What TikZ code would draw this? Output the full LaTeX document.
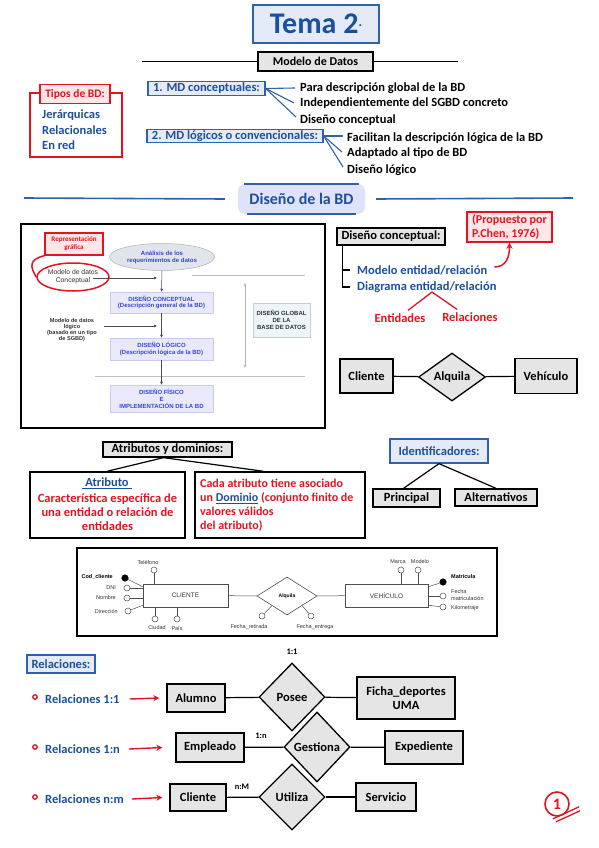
\documentclass[tikz,border=0pt]{standalone}
\usepackage{fontspec}
\setmainfont{Carlito}
\newfontfamily\arialf{Liberation Sans}
\usetikzlibrary{shapes.geometric,arrows.meta,calc}
\definecolor{tblue}{HTML}{1C4F9C}
\definecolor{bborder}{HTML}{2F62AB}
\definecolor{bfill}{HTML}{E4EBF6}
\definecolor{tred}{HTML}{E3141F}
\definecolor{pinkf}{HTML}{FDE6E8}
\definecolor{gfill}{HTML}{E5E5E5}
\definecolor{headf}{HTML}{DFE3FA}
\definecolor{lavf}{HTML}{E9E9FB}
\definecolor{lavd}{HTML}{C9C9EE}
\definecolor{lavt}{HTML}{3347D0}
\definecolor{imgtxt}{HTML}{333333}
\definecolor{anaf}{HTML}{E2E4EC}
\definecolor{dgf}{HTML}{EEF5F8}
\begin{document}
\begin{tikzpicture}[x=1pt,y=-1pt,
  every node/.style={inner sep=0pt, font=\bfseries\fontsize{12.5}{14}\selectfont},
  gbox/.style={draw=black, line width=1.3pt, fill=gfill, align=center},
  bbox/.style={draw=bborder, line width=1.3pt, fill=bfill, text=tblue},
  rbox/.style={draw=tred, line width=1.3pt, fill=pinkf, text=tred},
  wbox/.style={draw=black, line width=1.6pt, fill=white},
  rel/.style={diamond, draw=black, line width=1.3pt, fill=gfill},
  frontrel/.style={rel, preaction={draw=white, line width=5pt}},
  itm/.style={anchor=west},
  bitm/.style={anchor=west, text=tblue},
  ln/.style={draw=black, line width=1.2pt},
  fan/.style={draw=bborder, line width=1.1pt},
  redarr/.style={draw=tred, line width=1.4pt, -{Stealth[length=6pt,width=6pt]}},
  cardlbl/.style={font=\bfseries\fontsize{8.5}{9}\selectfont},
  imgt/.style={font=\arialf\fontsize{5.5}{6.2}\selectfont, text=imgtxt},
  imgtb/.style={font=\arialf\bfseries\fontsize{5.5}{6.2}\selectfont, text=black},
  imgbold/.style={font=\arialf\bfseries\fontsize{6}{6.9}\selectfont, align=center},
  lav/.style={imgbold, draw=lavd, fill=lavf, text=lavt, line width=0.5pt},
  garr/.style={draw=black!70, line width=0.5pt, -{Latex[length=3pt,width=3pt]}},
  sep/.style={draw=black!25, line width=0.5pt},
  attr/.style={circle, draw=black!70, fill=white, line width=0.5pt, minimum size=6pt},
  attrk/.style={circle, draw=black, fill=black, line width=0.5pt, minimum size=6.5pt},
  erl/.style={draw=black!70, line width=0.5pt},
  bul/.style={circle, draw=tred, line width=1.3pt, minimum size=4.5pt},
]
\useasboundingbox (0,0) rectangle (599,848);
\fill[white] (0,0) rectangle (599,848);

% ---------- Title ----------
\node[draw=bborder, line width=1.6pt, fill=bfill, minimum width=126pt, minimum height=38pt, text=tblue, font=\bfseries\fontsize{30}{32}\selectfont] (tema) at (316,24) {Tema 2\raisebox{4pt}{\fontsize{14}{14}\selectfont\mdseries ·}};

\node[gbox, minimum width=115pt, minimum height=19pt, font=\bfseries\fontsize{12}{13}\selectfont] (modelo) at (315.5,61.5) {Modelo de Datos};
\coordinate (tlL) at (142,61.5);
\coordinate (tlR) at (458,61.5);
\draw[ln] (tlL) -- (modelo);
\draw[ln] (modelo) -- (tlR);

% ---------- Tipos de BD ----------
\node[draw=tred, line width=1.6pt, fill=white, minimum width=92pt, minimum height=64pt] (tipos) at (76,125) {};
\node[rbox, minimum width=70pt, minimum height=19pt, font=\bfseries\fontsize{11.5}{13}\selectfont] (tiposT) at (75,94) {Tipos de BD:};
\node[bitm] (jer) at (42,115) {Jerárquicas};
\node[bitm] (relc) at (42,130) {Relacionales};
\node[bitm] (enred) at (42,145) {En red};

% ---------- MD conceptuales ----------
\node[bbox, minimum width=117pt, minimum height=14pt] (md1) at (206.5,88.5) {1. MD conceptuales:};
\node[itm] (p1) at (300,88) {Para descripción global de la BD};
\node[itm] (p2) at (300,103) {Independientemente del SGBD concreto};
\node[itm] (p3) at (300,120) {Diseño conceptual};
\draw[fan] (md1.east) -- ([xshift=-5]p1.west);
\draw[fan] (md1.east) -- ([xshift=-6]p2.west);
\draw[fan] (md1.east) -- ([shift={(-4,-3)}]p3.west);

% ---------- MD logicos ----------
\node[bbox, minimum width=176pt, minimum height=13pt] (md2) at (235,136) {2. MD lógicos o convencionales:};
\node[itm] (f1) at (347,138) {Facilitan la descripción lógica de la BD};
\node[itm] (f2) at (347,153) {Adaptado al tipo de BD};
\node[itm] (f3) at (347,170) {Diseño lógico};
\draw[fan] (md2.east) -- ([shift={(-4,-2)}]f1.west);
\draw[fan] (md2.east) -- ([shift={(-5,-1)}]f2.west);
\draw[fan] (md2.east) -- ([shift={(-4,-3)}]f3.west);

% ---------- Heading ----------
\node[fill=headf, rounded corners=7pt, minimum width=127pt, minimum height=30pt, text=tblue, font=\bfseries\fontsize{16}{18}\selectfont] (head) at (301.5,199) {Diseño de la BD};
\coordinate (hl1) at (24,198);
\coordinate (hr2) at (573,198);
\draw[draw=bborder, line width=1.6pt] (hl1) -- ([xshift=-13]head.west);
\draw[draw=bborder, line width=1.6pt] ([xshift=11]head.east) -- (hr2);
\draw[draw=bborder, line width=2.2pt] ([xshift=6]head.north west) -- ([xshift=-6]head.north east);
\draw[draw=bborder, line width=2.2pt] ([xshift=9]head.south west) -- ([xshift=-9]head.south east);

% ---------- Left figure ----------
\node[wbox, minimum width=304pt, minimum height=204pt] (fig) at (173,326) {};
\draw[sep] (192,275) -- (305,275);
\draw[sep] (95,376) -- (305,376);
\draw[draw=black!30, line width=0.6pt, {Latex[length=3pt,width=3pt]}-{Latex[length=3pt,width=3pt]}] (245,283) -- (245,368);

\node[ellipse, draw=black!30, line width=0.5pt, fill=anaf, minimum width=105pt, minimum height=27pt, imgbold, text=lavt] (ana) at (162,257) {Análisis de los\\requerimientos de datos};
\node[lav, minimum width=103pt, minimum height=21pt] (dc) at (161.5,302.5) {DISEÑO CONCEPTUAL\\(Descripción general de la BD)};
\node[lav, minimum width=103pt, minimum height=22pt] (dl) at (161.5,349) {DISEÑO LÓGICO\\(Descripción lógica de la BD)};
\node[lav, minimum width=103pt, minimum height=27pt] (df) at (161.5,398.5) {DISEÑO FÍSICO\\E\\IMPLEMENTACIÓN DE LA BD};
\node[imgbold, draw=black!20, fill=dgf, line width=0.5pt, text=black!80, minimum width=57pt, minimum height=34pt] (dg) at (281.5,320) {DISEÑO GLOBAL\\DE LA\\BASE DE DATOS};
\draw[garr] (ana) -- (dc);
\draw[garr] (dc) -- (dl);
\draw[garr] (dl) -- (df);

\node[rbox, minimum width=58pt, minimum height=22pt, font=\bfseries\fontsize{7}{8}\selectfont, align=center] (rep) at (74,244) {Representación\\gráfica};
\node[ellipse, draw=tred, line width=1.5pt, fill=white, minimum width=72pt, minimum height=28pt, font=\arialf\fontsize{6.8}{7.6}\selectfont, text=imgtxt, align=center] (mdc) at (73,277) {Modelo de datos\\Conceptual};
\draw[tred, line width=1.5pt] (rep.south west) .. controls +(-16,4) and +(-6,-10) .. (mdc.west);
\coordinate (a1e) at (157,278);
\draw[garr] ([shift={(-17,1)}]mdc.east) -- (a1e);

\node[font=\arialf\bfseries\fontsize{5.6}{5.9}\selectfont, text=imgtxt, align=center] (mdl) at (72,330) {Modelo de datos\\lógico\\(basado en un tipo\\de SGBD)};
\coordinate (a2e) at (157,326);
\draw[garr] ([shift={(7,-4)}]mdl.east) -- (a2e);

% ---------- Right: Diseno conceptual ----------
\node[rbox, line width=1.5pt, minimum width=85pt, minimum height=30pt, align=left, font=\bfseries\fontsize{12}{13.5}\selectfont] (chen) at (509.5,227) {(Propuesto por\\P.Chen, 1976)};
\node[gbox, minimum width=108pt, minimum height=17pt] (dconc) at (391,236.5) {Diseño conceptual:};
\node[bitm] (mer) at (357,270) {Modelo entidad/relación};
\node[bitm] (der) at (357,287) {Diagrama entidad/relación};
\coordinate (brT) at ($(dconc.south west)+(6,0)$);
\draw[ln] (brT) |- ([xshift=-7]der.west);
\draw[ln] (brT |- mer.west) -- ([xshift=-7]mer.west);
\draw[draw=tred, line width=1.5pt, -{Stealth[length=6pt,width=6pt]}] ([shift={(7,-3)}]mer.east) .. controls +(12,0) and +(0,14) .. (chen.south);
\coordinate (spl) at (432,292);
\node[text=tred] (ent) at (400,318) {Entidades};
\node[text=tred] (relz) at (470,317) {Relaciones};
\draw[draw=tred, line width=1.3pt] (spl) -- ([shift={(8,-3)}]ent.north);
\draw[draw=tred, line width=1.3pt] (spl) -- ([shift={(-13,-3)}]relz.north);

% ---------- Cliente Alquila Vehiculo ----------
\node[gbox, minimum width=53pt, minimum height=34pt] (cli) at (366.5,376) {Cliente};
\node[rel, minimum width=67pt, minimum height=48pt] (alq) at (452,377) {Alquila};
\node[gbox, minimum width=62pt, minimum height=35pt] (veh) at (546,376) {Vehículo};
\draw[ln] (cli) -- (alq);
\draw[ln] (alq) -- (veh);

% ---------- Atributos y dominios ----------
\node[gbox, minimum width=129pt, minimum height=15pt] (atr) at (167.5,449.5) {Atributos y dominios:};
\node[wbox, minimum width=155pt, minimum height=66pt] (atrL) at (107.5,505) {};
\node[wbox, minimum width=170pt, minimum height=66pt] (atrR) at (280,505) {};
\draw[ln] ([xshift=-4]atr.south) -- (atrL.north);
\draw[ln] ([xshift=-4]atr.south) -- ([xshift=-17]atrR.north);
\node[text=tblue] (atrT) at (107,483) {\underline{\ Atributo\ }};
\node[text=tred, align=center] (atrD) at (107.5,512) {Característica específica de\\una entidad o relación de\\entidades};
\node[text=tred, align=left, anchor=west, font=\bfseries\fontsize{12}{14}\selectfont] (atrRT) at (200,505) {Cada atributo tiene asociado\\un \textcolor{tblue}{\underline{Dominio}} (conjunto finito de\\valores válidos\\del atributo)};

% ---------- Identificadores ----------
\node[bbox, minimum width=98pt, minimum height=24pt] (idf) at (439,451) {Identificadores:};
\node[gbox, minimum width=67pt, minimum height=18pt] (pri) at (406.5,498) {Principal};
\node[gbox, minimum width=82pt, minimum height=17pt] (alt) at (496,497.5) {Alternativos};
\draw[ln] (idf.south) -- ([xshift=-3]pri.north);
\draw[ln] (idf.south) -- (alt.north);

% ---------- ER figure ----------
\node[wbox, minimum width=420pt, minimum height=88pt] (erfig) at (287,592) {};
\node[draw=black!70, line width=0.6pt, fill=white, minimum width=85pt, minimum height=23pt, font=\arialf\fontsize{6.5}{7}\selectfont, text=imgtxt] (CL) at (185.5,595.5) {CLIENTE};
\node[diamond, draw=black!70, line width=0.6pt, fill=white, minimum width=60pt, minimum height=38pt, font=\arialf\bfseries\fontsize{5}{6}\selectfont] (AL) at (287,596) {Alquila};
\node[draw=black!70, line width=0.6pt, fill=white, minimum width=83pt, minimum height=23pt, font=\arialf\fontsize{6.5}{7}\selectfont, text=imgtxt] (VE) at (386.5,595.5) {VEHÍCULO};
\draw[erl] (CL) -- (AL);
\draw[erl] (AL) -- (VE);

\node[attr] (tel) at (154,570) {};
\draw[erl] (tel) -- (tel |- CL.north);
\node[imgt] (telL) at (148,562) {Teléfono};
\node[attrk] (cod) at (125,578) {};
\draw[erl] (cod) -- ([shift={(0,3)}]CL.north west);
\node[imgtb, anchor=east] (codL) at (113,577) {Cod\_cliente};
\node[attr] (dni) at (127,588) {};
\draw[erl] (dni) -- (CL.west |- dni);
\node[imgt, anchor=east] (dniL) at (116,588) {DNI};
\node[attr] (nom) at (127,598) {};
\draw[erl] (nom) -- (CL.west |- nom);
\node[imgt, anchor=east] (nomL) at (116,598) {Nombre};
\node[attr] (dir) at (128,611) {};
\draw[erl] (dir) -- ([shift={(0,-2)}]CL.south west);
\node[imgt, anchor=east] (dirL) at (118,611) {Dirección};
\node[attr] (ciu) at (155,619) {};
\draw[erl] (ciu) -- (ciu |- CL.south);
\node[imgt] (ciuL) at (157,628) {Ciudad};
\node[attr] (pai) at (177,619) {};
\draw[erl] (pai) -- (pai |- CL.south);
\node[imgt] (paiL) at (177,628) {País};
\node[attr] (fre) at (262,616) {};
\draw[erl] (fre) -- (AL.south west);
\node[imgt] (freL) at (249,627) {Fecha\_retirada};
\node[attr] (fen) at (311,616) {};
\draw[erl] (fen) -- (AL.south east);
\node[imgt] (fenL) at (315,627) {Fecha\_entrega};
\node[attr] (mar) at (401,570) {};
\draw[erl] (mar) -- (mar |- VE.north);
\node[imgt] (marL) at (398,562) {Marca};
\node[attr] (mdo) at (418,570) {};
\draw[erl] (mdo) -- (mdo |- VE.north);
\node[imgt] (mdoL) at (420,562) {Modelo};
\node[attrk] (mat) at (443,582) {};
\draw[erl] (mat) -- ([shift={(0,3)}]VE.north east);
\node[imgtb, anchor=west] (matL) at (451,577) {Matricula};
\node[attr] (fma) at (443,596) {};
\draw[erl] (fma) -- (VE.east |- fma);
\node[imgt, anchor=west, align=left] (fmaL) at (451,595) {Fecha\\matriculación};
\node[attr] (kil) at (443,607) {};
\draw[erl] (kil) -- ([shift={(0,-2)}]VE.south east);
\node[imgt, anchor=west] (kilL) at (451,608) {Kilometraje};

% ---------- Relaciones ----------
\node[bbox, minimum width=68pt, minimum height=18pt] (relT) at (61,664) {Relaciones:};

\node[cardlbl] (c11) at (292,652) {1:1};
\node[bul] (b1) at (35,697) {};
\node[bitm] (t1) at (45,699) {Relaciones 1:1};
\node[gbox, minimum width=58pt, minimum height=28pt] (alu) at (196,698) {Alumno};
\node[rel, minimum width=66pt, minimum height=68pt] (pos) at (292,697) {Posee};
\node[gbox, minimum width=98pt, minimum height=42pt] (fic) at (406,698) {Ficha\_deportes\\UMA};
\draw[redarr] ([xshift=10]t1.east) -- ([xshift=-7]alu.west);
\draw[ln] (alu) -- (pos);
\draw[ln] (pos) -- (fic);

\node[bul] (b2) at (35,747) {};
\node[bitm] (t2) at (45,749) {Relaciones 1:n};
\node[gbox, minimum width=68pt, minimum height=29pt] (emp) at (210,747.5) {Empleado};
\node[frontrel, minimum width=66pt, minimum height=70pt] (ges) at (317,747) {Gestiona};
\node[gbox, minimum width=78pt, minimum height=33pt] (expd) at (424,747.5) {Expediente};
\node[cardlbl] (c1n) at (261,736) {1:n};
\draw[redarr] ([xshift=9]t2.east) -- ([xshift=-13]emp.west);
\draw[ln] (emp) -- (ges);
\draw[ln] (ges) -- (expd);

\node[bul] (b3) at (35,797) {};
\node[bitm] (t3) at (45,799) {Relaciones n:m};
\node[gbox, minimum width=56pt, minimum height=27pt] (cl2) at (198,797.5) {Cliente};
\node[frontrel, minimum width=66pt, minimum height=66pt] (uti) at (292,797) {Utiliza};
\node[gbox, minimum width=60pt, minimum height=28pt] (ser) at (386,797) {Servicio};
\node[cardlbl] (cnm) at (242,787) {n:M};
\draw[redarr] ([xshift=8]t3.east) -- ([xshift=-7]cl2.west);
\draw[ln] (cl2) -- (uti);
\draw[ln] (uti) -- (ser);

% ---------- Page number ----------
\node[circle, draw=tred, line width=1.6pt, minimum size=24pt, text=tred, font=\bfseries\fontsize{16}{17}\selectfont] (one) at (557,804) {1};
\draw[draw=tred, line width=1.3pt] ([shift={(-4,2)}]one.south) -- ([shift={(22,-10)}]one.south);
\draw[draw=tred, line width=1.3pt] ([shift={(-1,5)}]one.south) -- ([shift={(23,-6)}]one.south);
\end{tikzpicture}
\end{document}
